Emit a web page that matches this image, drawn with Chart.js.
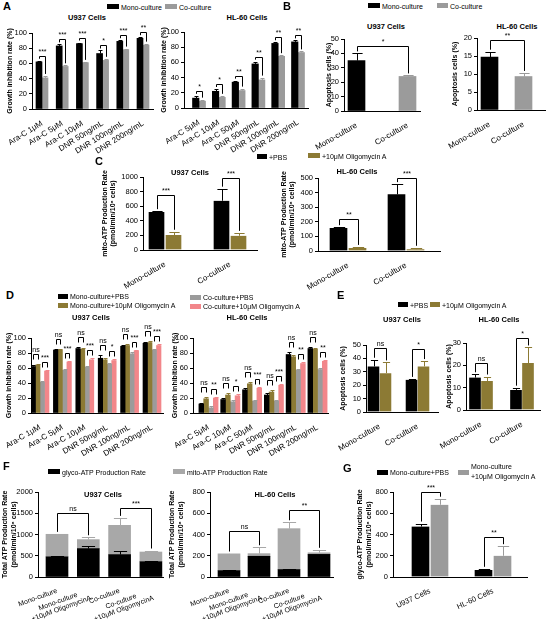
<!DOCTYPE html>
<html>
<head>
<meta charset="utf-8">
<script src="https://cdn.jsdelivr.net/npm/chart.js@4.4.0/dist/chart.umd.min.js"></script>
<style>
  body { margin: 0; width: 546px; height: 619px; position: relative; overflow: hidden; background: #fff;
         font-family: "Liberation Sans", Arial, sans-serif; }
  canvas { position: absolute; }
  .t { position: absolute; white-space: nowrap; font-size: 7px; line-height: 1; color: #000; }
  .box { position: absolute; }
</style>
</head>
<body>
<script>
// ---------- data ----------
const BLACK = '#000000', GRAY = '#9b9b9b', OLIVE = '#8c7a34', SALMON = '#f2868a', LGRAY = '#a8a8a8';

// Panel A
const aLegend = ['Mono-culture', 'Co-culture'];
const aCatsU937 = ['Ara-C 1μM', 'Ara-C 5μM', 'Ara-C 10μM', 'DNR 50ng/mL', 'DNR 100ng/mL', 'DNR 200ng/mL'];
const aCatsHL60 = ['Ara-C 5μM', 'Ara-C 10μM', 'Ara-C 50μM', 'DNR 50ng/mL', 'DNR 100ng/mL', 'DNR 200ng/mL'];
const aU937Mono = [62, 83, 86, 73, 89, 93];
const aU937MonoErr = [1.5, 2, 1.5, 4, 1.5, 1.5];
const aU937Co = [41, 56, 61, 64, 78, 84];
const aU937CoErr = [2.5, 1.5, 1, 2, 1.5, 2];
const aU937Sig = ['***', '***', '***', '*', '***', '**'];
const aHL60Mono = [13, 22, 34, 58, 85, 87];
const aHL60MonoErr = [3, 3, 2, 3, 1.5, 2];
const aHL60Co = [9, 14, 23, 37, 68, 73];
const aHL60CoErr = [2, 2, 2.5, 3, 1.5, 1.5];
const aHL60Sig = ['*', '*', '**', '**', '**', '**'];
const growthTicks = [0, 20, 40, 60, 80, 100];

// Panel B
const cultureCats = ['Mono-culture', 'Co-culture'];
const bU937 = [35, 24];
const bU937Err = [5, 0.7];
const bHL60 = [14.7, 9.3];
const bHL60Err = [1.5, 1];
const bSig = ['*', '**'];
const bU937Ticks = [0, 10, 20, 30, 40, 50];
const bHL60Ticks = [0, 5, 10, 15, 20];

// Panel C
const treatLegend = ['+PBS', '+10μM Oligomycin A'];
const cU937Pbs = [520, 675];
const cU937PbsErr = [12, 165];
const cU937Oligo = [205, 195];
const cU937OligoErr = [45, 40];
const cHL60Pbs = [158, 388];
const cHL60PbsErr = [5, 70];
const cHL60Oligo = [20, 12];
const cHL60OligoErr = [8, 10];
const cU937Sig = ['***', '***'];
const cHL60Sig = ['**', '***'];
const cU937Ticks = [0, 200, 400, 600, 800, 1000];
const cHL60Ticks = [0, 100, 200, 300, 400, 500];

// Panel D
const dLegend = ['Mono-culture+PBS', 'Mono-culture+10μM Oligomycin A', 'Co-culture+PBS', 'Co-culture+10μM Oligomycin A'];
const dU937MonoPbs = [62, 84, 86, 73, 89, 93];
const dU937MonoOligo = [64, 84, 85, 71, 90, 94];
const dU937CoPbs = [41, 57, 61, 65, 79, 84];
const dU937CoOligo = [56, 68, 71, 70, 83, 90];
const dU937Err = [[2, 2, 2, 4, 1.5, 1.5], [2, 2, 2, 3, 2, 2], [2, 2, 2, 2, 2, 2], [2, 2, 2, 2, 1.5, 1.5]];
const dU937Sig = ['***', '***', '***', '*', '***', '***'];
const dHL60MonoPbs = [12, 18, 31, 24, 78, 86];
const dHL60MonoOligo = [19, 24, 39, 28, 75, 85];
const dHL60CoPbs = [7, 15, 16, 16, 57, 58];
const dHL60CoOligo = [20, 23, 33, 37, 66, 69];
const dHL60Err = [[2, 2, 2, 3, 3, 2], [3, 3, 3, 3, 2, 2], [2, 2, 2, 2, 2, 2], [2, 2, 2, 2, 2, 2]];
const dHL60Sig = ['**', '*', '***', '***', '**', '**'];

// Panel E
const eU937Pbs = [34, 24];
const eU937PbsErr = [5, 0.7];
const eU937Oligo = [29, 34];
const eU937OligoErr = [8, 4];
const eHL60Pbs = [14.5, 9];
const eHL60PbsErr = [1.5, 1];
const eHL60Oligo = [13, 21];
const eHL60OligoErr = [2, 7];
const eSig = ['ns', '*'];
const eU937Ticks = [0, 10, 20, 30, 40, 50];
const eHL60Ticks = [0, 10, 20, 30];

// Panel F
const fLegend = ['glyco-ATP Production Rate', 'mito-ATP Production Rate'];
const fCats = ['Mono-culture', ['Mono-culture', '+10μM OligomycinA'], 'Co-culture', ['Co-culture', '+10μM OligomycinA']];
const fU937Glyco = [475, 668, 527, 360];
const fU937GlycoErr = [30, 60, 75, 25];
const fU937Mito = [530, 212, 689, 228];
const fU937TotalErr = [10, 55, 175, 35];
const fHL60Glyco = [60, 195, 70, 213];
const fHL60GlycoErr = [8, 0, 10, 0];
const fHL60Mito = [158, 25, 385, 15];
const fHL60TotalErr = [3, 60, 60, 28];
const fU937Sig = ['ns', '***'];
const fHL60Sig = ['ns', '**'];
const fU937Ticks = [0, 500, 1000, 1500, 2000];
const fHL60Ticks = [0, 200, 400, 600, 800];

// Panel G
const gLegend = ['Mono-culture+PBS', 'Mono-culture\n+10μM Oligomycin A'];
const gCats = ['U937 Cells', 'HL-60 Cells'];
const gPbs = [475, 65];
const gPbsErr = [28, 12];
const gOligo = [680, 200];
const gOligoErr = [57, 90];
const gSig = ['***', '**'];
const gTicks = [0, 200, 400, 600, 800];

// ---------- helpers ----------
const FONT = '"Liberation Sans", Arial, sans-serif';
Chart.defaults.font.family = FONT;
Chart.defaults.font.size = 7;
Chart.defaults.color = '#000';

const measureCtx = document.createElement('canvas').getContext('2d');

// centre the lines of a multi-line rotated label against each other
function centred(lines, size) {
    if (!Array.isArray(lines)) return lines;
    measureCtx.font = size + 'px ' + FONT;
    const ws = lines.map(l => measureCtx.measureText(l).width);
    const max = Math.max(...ws);
    const sp = measureCtx.measureText(' ').width;
    return lines.map((l, k) => l + ' '.repeat(Math.round((max - ws[k]) / 2 / sp)));
}

function text(str, x, y, opts = {}) {
    const el = document.createElement('div');
    el.className = 't';
    el.textContent = str;
    el.style.left = x + 'px';
    el.style.top = y + 'px';
    if (opts.bold) el.style.fontWeight = 'bold';
    if (opts.size) el.style.fontSize = opts.size + 'px';
    if (opts.lh) { el.style.whiteSpace = 'pre'; el.style.lineHeight = opts.lh + 'px'; }
    el.style.transform = opts.center ? 'translate(-50%,-50%)' : 'translateY(-50%)';
    document.body.appendChild(el);
}

function legendItem(label, color, x, y, w = 11, h = 5, lh) {
    const b = document.createElement('div');
    b.className = 'box';
    b.style.left = x + 'px';
    b.style.top = (y - h / 2) + 'px';
    b.style.width = w + 'px';
    b.style.height = h + 'px';
    b.style.background = color;
    document.body.appendChild(b);
    text(label, x + w + 2, y, lh ? {lh} : {});
}

function pick(c, i) { return Array.isArray(c) ? c[i] : c; }

// error bars and significance brackets
function extras(g) {
    return {
        id: 'extras',
        afterDatasetsDraw(chart) {
            const ctx = chart.ctx, ys = chart.scales.y;
            const topOf = (d, i) => {
                let v = 0;
                if (g.stacked) for (let k = 0; k <= d; k++) v += g.series[k].data[i];
                else v = g.series[d].data[i];
                const e = g.series[d].err ? g.series[d].err[i] : 0;
                return ys.getPixelForValue(v + e);
            };
            ctx.save();
            ctx.lineWidth = 1;
            g.series.forEach((s, d) => {
                chart.getDatasetMeta(d).data.forEach((el, i) => {
                    if (!s.err || !s.err[i]) return;
                    const x = Math.round(el.x) + 0.5;
                    const y1 = Math.round(topOf(d, i)) + 0.5;
                    const cw = Math.max(2, el.width * 0.3);
                    ctx.strokeStyle = pick(s.color, i);
                    ctx.beginPath();
                    ctx.moveTo(x, el.y);
                    ctx.lineTo(x, y1);
                    ctx.moveTo(x - cw, y1);
                    ctx.lineTo(x + cw, y1);
                    ctx.stroke();
                });
            });
            ctx.strokeStyle = '#000';
            ctx.fillStyle = '#000';
            ctx.font = '7px ' + FONT;
            ctx.textAlign = 'center';
            ctx.textBaseline = 'bottom';
            (g.brackets || []).forEach((b, k) => {
                const [d1, i1, d2, i2, label] = b;
                const e1 = chart.getDatasetMeta(d1).data[i1];
                const e2 = chart.getDatasetMeta(d2).data[i2];
                const t1 = topOf(d1, i1), t2 = topOf(d2, i2);
                const lift = g.lifts ? pick(g.lifts, k) : 5;
                const ly = Math.round(Math.min(t1, t2) - lift) + 0.5;
                const legMax = g.legMax || 1000;
                const x1 = Math.round(e1.x) + 0.5, x2 = Math.round(e2.x) + 0.5;
                ctx.beginPath();
                ctx.moveTo(x1, Math.min(t1 - 2, ly + legMax));
                ctx.lineTo(x1, ly);
                ctx.lineTo(x2, ly);
                ctx.lineTo(x2, Math.min(t2 - 2, ly + legMax));
                ctx.stroke();
                ctx.fillText(label, (x1 + x2) / 2, ly - 0.5);
            });
            ctx.restore();
        }
    };
}

function makeChart(g) {
    const padTop = 18, padRight = 4, xH = 56;
    const xFont = g.xFont || 8;
    // leave room on the left for the y title and for the first rotated label
    const left = Math.max(0, Math.floor(Math.min(g.titleX - 6, g.c0 - 60)));
    const yW = g.ax - left;
    const top = g.yt - padTop;
    const w = g.xr - g.ax + yW + padRight;
    const h = padTop + (g.yb - g.yt) + xH;
    const cv = document.createElement('canvas');
    cv.width = w;
    cv.height = h;
    cv.style.left = left + 'px';
    cv.style.top = top + 'px';
    cv.style.width = w + 'px';
    cv.style.height = h + 'px';
    document.body.appendChild(cv);

    const xMin = -(g.c0 - g.ax) / g.step;
    const xMax = (g.xr - g.c0) / g.step;
    const yt = g.ticks;
    const gap = g.gap || 0;

    return new Chart(cv, {
        type: 'bar',
        data: {
            datasets: g.series.map(s => ({
                data: s.data.map((v, i) => ({x: i, y: v})),
                backgroundColor: s.color,
                borderColor: 'rgba(0,0,0,0)',
                borderWidth: {left: gap, right: gap, top: 0, bottom: 0},
                borderSkipped: false,
                barThickness: g.bar
            }))
        },
        options: {
            responsive: false,
            animation: false,
            devicePixelRatio: 1,
            layout: {padding: {top: padTop, right: padRight, left: 0, bottom: 0}},
            plugins: {legend: {display: false}, tooltip: {enabled: false}},
            scales: {
                x: {
                    type: 'linear',
                    min: xMin,
                    max: xMax,
                    offset: false,
                    stacked: !!g.stacked,
                    grid: {display: false, offset: false},
                    border: {display: true, color: '#000', width: 1},
                    ticks: {
                        autoSkip: false,
                        minRotation: g.rot,
                        maxRotation: g.rot,
                        padding: 2,
                        font: {size: xFont, lineHeight: 1.1},
                        callback: (v, i) => centred(g.cats[i], xFont)
                    },
                    afterBuildTicks: s => { s.ticks = g.cats.map((c, i) => ({value: i})); },
                    afterFit: s => { s.height = xH; s.paddingLeft = 0; s.paddingRight = 0; }
                },
                y: {
                    min: yt[0],
                    max: yt[yt.length - 1],
                    stacked: !!g.stacked,
                    grid: {drawOnChartArea: false, drawTicks: true, tickLength: 3, color: '#000'},
                    border: {display: true, color: '#000', width: 1},
                    ticks: {padding: 2, font: {size: 7.5}, callback: v => String(v)},
                    afterBuildTicks: s => { s.ticks = yt.map(v => ({value: v})); },
                    title: {
                        display: true,
                        text: g.yTitle,
                        font: {size: 7, weight: 'bold', lineHeight: 1.15},
                        padding: {top: g.titleX - left - 4, bottom: 0}
                    },
                    afterFit: s => { s.width = yW; s.paddingTop = 0; s.paddingBottom = 0; }
                }
            }
        },
        plugins: [extras(g)]
    });
}

const growthTitle = 'Growth inhibition rate (%)';
const apoTitle = 'Apoptosis cells (%)';
const unitLine = '(pmol/min/10⁶ cells)';

// ---------- Panel A ----------
text('A', 3, 6, {bold: true, size: 11});
legendItem(aLegend[0], BLACK, 107, 6.5, 12);
legendItem(aLegend[1], GRAY, 165, 6.5, 12);
text('U937 Cells', 87, 18, {bold: true, size: 7.5, center: true});
text('HL-60 Cells', 247, 18, {bold: true, size: 7.5, center: true});
makeChart({
    cats: aCatsU937, ticks: growthTicks, yTitle: growthTitle,
    ax: 32, xr: 153, yt: 33, yb: 109, c0: 42, step: 20.2, bar: 6, rot: 32, titleX: 10,
    series: [{data: aU937Mono, err: aU937MonoErr, color: BLACK}, {data: aU937Co, err: aU937CoErr, color: GRAY}],
    brackets: aU937Sig.map((t, i) => [0, i, 1, i, t])
});
makeChart({
    cats: aCatsHL60, ticks: growthTicks, yTitle: growthTitle,
    ax: 184, xr: 308, yt: 32, yb: 108, c0: 199, step: 19.8, bar: 6.5, rot: 32, titleX: 164,
    series: [{data: aHL60Mono, err: aHL60MonoErr, color: BLACK}, {data: aHL60Co, err: aHL60CoErr, color: GRAY}],
    brackets: aHL60Sig.map((t, i) => [0, i, 1, i, t])
});

// ---------- Panel B ----------
text('B', 283, 6, {bold: true, size: 11});
legendItem(aLegend[0], BLACK, 368, 5.5, 12);
legendItem(aLegend[1], GRAY, 437, 5.5, 11);
text('U937 Cells', 386, 27, {bold: true, size: 7.5, center: true});
text('HL-60 Cells', 517, 27, {bold: true, size: 7.5, center: true});
makeChart({
    cats: cultureCats, ticks: bU937Ticks, yTitle: apoTitle,
    ax: 344, xr: 420, yt: 39, yb: 111, c0: 356.5, step: 51, bar: 17, rot: 30, titleX: 329,
    series: [{data: bU937, err: bU937Err, color: [BLACK, GRAY]}],
    brackets: [[0, 0, 0, 1, bSig[0]]], lifts: [7]
});
makeChart({
    cats: cultureCats, ticks: bHL60Ticks, yTitle: apoTitle,
    ax: 477, xr: 546, yt: 38, yb: 110, c0: 489.5, step: 34, bar: 17, rot: 30, titleX: 455,
    series: [{data: bHL60, err: bHL60Err, color: [BLACK, GRAY]}],
    brackets: [[0, 0, 0, 1, bSig[1]]], lifts: [12]
});

// ---------- Panel C ----------
text('C', 95, 161, {bold: true, size: 11});
legendItem(treatLegend[0], BLACK, 257, 156.5, 10);
legendItem(treatLegend[1], OLIVE, 308, 155.5, 12);
text('U937 Cells', 190, 173, {bold: true, size: 7.5, center: true});
text('HL-60 Cells', 357, 172, {bold: true, size: 7.5, center: true});
makeChart({
    cats: cultureCats, ticks: cU937Ticks, yTitle: ['mito-ATP Production Rate', unitLine],
    ax: 143, xr: 257, yt: 177, yb: 250, c0: 165, step: 65, bar: 17, gap: 1, rot: 30, titleX: 105,
    series: [{data: cU937Pbs, err: cU937PbsErr, color: BLACK}, {data: cU937Oligo, err: cU937OligoErr, color: OLIVE}],
    brackets: cU937Sig.map((t, i) => [0, i, 1, i, t]), lifts: [16, 11]
});
makeChart({
    cats: cultureCats, ticks: cHL60Ticks, yTitle: ['mito-ATP Production Rate', unitLine],
    ax: 318, xr: 440, yt: 178, yb: 251, c0: 348, step: 58, bar: 19, gap: 1, rot: 30, titleX: 284,
    series: [{data: cHL60Pbs, err: cHL60PbsErr, color: BLACK}, {data: cHL60Oligo, err: cHL60OligoErr, color: OLIVE}],
    brackets: cHL60Sig.map((t, i) => [0, i, 1, i, t]), lifts: [8.5, 6]
});

// ---------- Panel D ----------
text('D', 6, 295, {bold: true, size: 11});
legendItem(dLegend[0], BLACK, 58, 296, 10);
legendItem(dLegend[1], OLIVE, 58, 305, 10);
legendItem(dLegend[2], GRAY, 190, 297, 11);
legendItem(dLegend[3], SALMON, 190, 306, 11);
text('U937 Cells', 91, 318, {bold: true, size: 7.5, center: true});
text('HL-60 Cells', 247, 318, {bold: true, size: 7.5, center: true});
const dColors = [BLACK, OLIVE, GRAY, SALMON];
function dBrackets(sig) {
    const out = [];
    sig.forEach((t, i) => { out.push([0, i, 1, i, 'ns']); out.push([2, i, 3, i, t]); });
    return out;
}
makeChart({
    cats: aCatsU937, ticks: growthTicks, yTitle: growthTitle,
    ax: 31, xr: 163, yt: 338, yb: 413, c0: 40, step: 22.4, bar: 4.5, rot: 30, titleX: 9,
    series: [dU937MonoPbs, dU937MonoOligo, dU937CoPbs, dU937CoOligo].map((d, k) => ({data: d, err: dU937Err[k], color: dColors[k]})),
    brackets: dBrackets(dU937Sig), lifts: dU937Sig.flatMap(() => [10, 8]), legMax: 5
});
makeChart({
    cats: aCatsHL60, ticks: growthTicks, yTitle: growthTitle,
    ax: 193, xr: 328, yt: 338, yb: 413, c0: 208.5, step: 21.8, bar: 4.8, rot: 30, titleX: 175,
    series: [dHL60MonoPbs, dHL60MonoOligo, dHL60CoPbs, dHL60CoOligo].map((d, k) => ({data: d, err: dHL60Err[k], color: dColors[k]})),
    brackets: dBrackets(dHL60Sig), lifts: dHL60Sig.flatMap(() => [10, 8]), legMax: 5
});

// ---------- Panel E ----------
text('E', 337, 295, {bold: true, size: 11});
legendItem(treatLegend[0], BLACK, 398, 304.5, 10);
legendItem(treatLegend[1], OLIVE, 430, 304.5, 10);
text('U937 Cells', 402, 320, {bold: true, size: 7.5, center: true});
text('HL-60 Cells', 499, 320, {bold: true, size: 7.5, center: true});
makeChart({
    cats: cultureCats, ticks: eU937Ticks, yTitle: apoTitle,
    ax: 366, xr: 438, yt: 345, yb: 412, c0: 379.5, step: 38, bar: 12, gap: 0.5, rot: 30, titleX: 343,
    series: [{data: eU937Pbs, err: eU937PbsErr, color: BLACK}, {data: eU937Oligo, err: eU937OligoErr, color: OLIVE}],
    brackets: eSig.map((t, i) => [0, i, 1, i, t]), lifts: [12, 12]
});
makeChart({
    cats: cultureCats, ticks: eHL60Ticks, yTitle: apoTitle,
    ax: 466, xr: 540, yt: 343, yb: 410, c0: 481, step: 41, bar: 12, gap: 0.5, rot: 30, titleX: 449,
    series: [{data: eHL60Pbs, err: eHL60PbsErr, color: BLACK}, {data: eHL60Oligo, err: eHL60OligoErr, color: OLIVE}],
    brackets: eSig.map((t, i) => [0, i, 1, i, t]), lifts: [11, 9]
});

// ---------- Panel F ----------
text('F', 3, 466, {bold: true, size: 11});
legendItem(fLegend[0], BLACK, 48, 471.5, 12);
legendItem(fLegend[1], LGRAY, 173, 471.5, 12);
text('U937 Cells', 103, 495, {bold: true, size: 7.5, center: true});
text('HL-60 Cells', 275, 495, {bold: true, size: 7.5, center: true});
makeChart({
    cats: fCats, ticks: fU937Ticks, yTitle: ['Total ATP Production Rate', unitLine], stacked: true,
    ax: 38, xr: 163, yt: 492, yb: 577, c0: 57, step: 31.3, bar: 22, rot: 20, xFont: 7, titleX: 5.5,
    series: [{data: fU937Glyco, err: fU937GlycoErr, color: BLACK}, {data: fU937Mito, err: fU937TotalErr, color: LGRAY}],
    brackets: [[1, 0, 1, 1, fU937Sig[0]], [1, 2, 1, 3, fU937Sig[1]]], lifts: [21, 9.5]
});
makeChart({
    cats: fCats, ticks: fHL60Ticks, yTitle: ['Total ATP Production Rate', unitLine], stacked: true,
    ax: 210, xr: 333, yt: 492, yb: 577, c0: 229, step: 30, bar: 22, rot: 20, xFont: 7, titleX: 172.5,
    series: [{data: fHL60Glyco, err: fHL60GlycoErr, color: BLACK}, {data: fHL60Mito, err: fHL60TotalErr, color: LGRAY}],
    brackets: [[1, 0, 1, 1, fHL60Sig[0]], [1, 2, 1, 3, fHL60Sig[1]]], lifts: [16, 12.6]
});

// ---------- Panel G ----------
text('G', 343, 468, {bold: true, size: 11});
legendItem(gLegend[0], BLACK, 377, 472, 11);
legendItem(gLegend[1], GRAY, 458, 472, 11, 5, 10);
makeChart({
    cats: gCats, ticks: gTicks, yTitle: ['glyco-ATP Production Rate', unitLine],
    ax: 393, xr: 527, yt: 492, yb: 577, c0: 430, step: 63, bar: 19, gap: 1, rot: 25, xFont: 7.5, titleX: 360.5,
    series: [{data: gPbs, err: gPbsErr, color: BLACK}, {data: gOligo, err: gOligoErr, color: GRAY}],
    brackets: gSig.map((t, i) => [0, i, 1, i, t]), lifts: [6.7, 9]
});
</script>
</body>
</html>
